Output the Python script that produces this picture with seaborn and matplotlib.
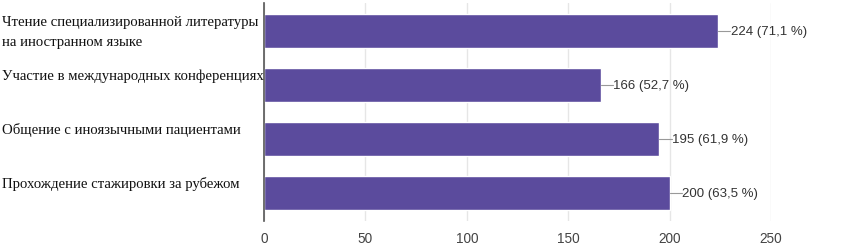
import numpy as np
import pandas as pd
import matplotlib
matplotlib.use("Agg")
import matplotlib.pyplot as plt
import matplotlib.transforms as mtransforms
import seaborn as sns

# data
categories = [
    "Чтение специализированной литературы\nна иностранном языке",
    "Участие в международных конференциях",
    "Общение с иноязычными пациентами",
    "Прохождение стажировки за рубежом",
]
counts = [224, 166, 195, 200]
percents = ["71,1", "52,7", "61,9", "63,5"]
xticks = [0, 50, 100, 150, 200, 250]

bar_color = "#5b4b9d"

sns.set_theme(style="white")
plt.rcParams["font.family"] = ["Liberation Sans", "DejaVu Sans"]

df = pd.DataFrame({"cat": categories, "count": counts})

fig = plt.figure(figsize=(8.53, 2.51), dpi=100)
ax = fig.add_axes([264 / 853, 1 - 222 / 251, (771 - 264) / 853, (222 - 4) / 251])

sns.barplot(data=df, y="cat", x="count", color=bar_color, saturation=1,
            width=0.63, ax=ax, orient="h")

ax.set_xlim(0, 250)
ax.set_ylim(3.52, -0.52)
ax.set_xticks(xticks)
ax.set_xticklabels([str(t) for t in xticks], fontsize=9.8, color="#444444")
ax.set_yticks([])
ax.set_xlabel("")
ax.set_ylabel("")
ax.tick_params(axis="x", length=0, pad=7)

ax.grid(axis="x", color="#e6e6e6", linewidth=1)
ax.set_axisbelow(True)
for s in ["top", "right", "bottom"]:
    ax.spines[s].set_visible(False)
ax.spines["left"].set_color("#555555")
ax.spines["left"].set_linewidth(1.2)

# category labels, left aligned at the figure edge
serif = ["Liberation Serif", "DejaVu Serif"]
trans = mtransforms.blended_transform_factory(fig.transFigure, ax.transData)
for i, cat in enumerate(categories):
    if "\n" in cat:
        ax.text(2 / 853, i, cat, transform=trans, ha="left", va="center",
                fontsize=10.6, family=serif, color="#111111", linespacing=1.7)
    else:
        ax.text(2 / 853, i - 0.31, cat, transform=trans, ha="left", va="top",
                fontsize=10.6, family=serif, color="#111111")

# value labels with short leader line
for i, (c, p) in enumerate(zip(counts, percents)):
    ax.plot([c, c + 6], [i, i], color="#999999", linewidth=0.8)
    ax.text(c + 6.3, i, f"{c} ({p} %)", ha="left", va="center",
            fontsize=9.5, color="#333333")

fig.savefig("out.png", dpi=100)
